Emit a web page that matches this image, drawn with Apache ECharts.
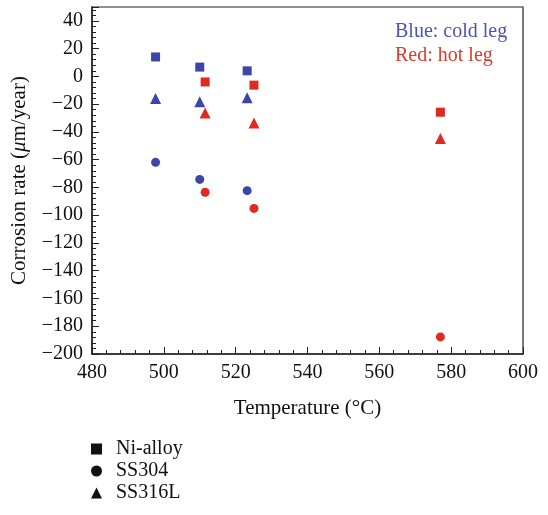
<!DOCTYPE html>
<html><head><meta charset="utf-8">
<script src="https://cdn.jsdelivr.net/npm/echarts@6/dist/echarts.min.js"></script>
<style>html,body{margin:0;padding:0;background:#fff}#c{width:548px;height:515px}</style>
</head><body><div id="c"></div>
<script>
// Data
const coldTemps = [497.7, 510, 523.2];
const hotTemps = [511.5, 525.1, 577];
const coldNi = [14, 6.7, 4];
const hotNi = [-4, -6.3, -25.8];
const coldSS304 = [-61.9, -74.2, -82.3];
const hotSS304 = [-83.5, -95.1, -187.7];
const coldSS316L = [-15.9, -18.3, -15.4];
const hotSS316L = [-26.3, -33.5, -44.8];
const materials = ['Ni-alloy', 'SS304', 'SS316L'];

const BLUE = '#3c46a8', RED = '#df2a1f';
const FONT = '"Liberation Serif", "DejaVu Serif", serif';
const pairs = (xs, ys) => xs.map((x, i) => [x, ys[i]]);
const shapes = {'Ni-alloy': 'rect', 'SS304': 'circle', 'SS316L': 'triangle'};
const sizes = {'Ni-alloy': 9, 'SS304': 9, 'SS316L': 11};

function sc(name, data, color) {
  return {type: 'scatter', name: name + (color === BLUE ? ' cold' : ' hot'), data: data,
    symbol: shapes[name], symbolSize: sizes[name], itemStyle: {color: color, opacity: 1}, z: 3};
}
const series = [
  sc('Ni-alloy', pairs(coldTemps, coldNi), BLUE),
  sc('Ni-alloy', pairs(hotTemps, hotNi), RED),
  sc('SS304', pairs(coldTemps, coldSS304), BLUE),
  sc('SS304', pairs(hotTemps, hotSS304), RED),
  sc('SS316L', pairs(coldTemps, coldSS316L), BLUE),
  sc('SS316L', pairs(hotTemps, hotSS316L), RED)
];
materials.forEach(m => series.push({type: 'scatter', name: m, data: [], symbol: shapes[m], itemStyle: {color: '#111', opacity: 1}}));

const chart = echarts.init(document.getElementById('c'), null, {renderer: 'canvas'});
chart.setOption({
  animation: false,
  backgroundColor: '#fff',
  textStyle: {fontFamily: FONT},
  grid: {left: 92, right: 25, top: 7, bottom: 161, show: true, borderColor: '#222', borderWidth: 1.2, backgroundColor: 'transparent'},
  legend: {
    data: materials, orient: 'vertical', left: 86, top: 434, itemGap: 2,
    itemWidth: 11, itemHeight: 11,
    textStyle: {fontFamily: FONT, fontSize: 20, color: '#111', padding: [0, 0, 0, 9]}
  },
  graphic: [
    {type: 'text', left: 395, top: 22, style: {text: 'Blue: cold leg', fill: '#4a54b2', font: '20px ' + FONT}},
    {type: 'text', left: 395, top: 46, style: {text: 'Red: hot leg', fill: '#e0392e', font: '20px ' + FONT}}
  ],
  xAxis: {
    type: 'value', min: 480, max: 600, interval: 20,
    name: 'Temperature (°C)', nameLocation: 'middle', nameGap: 44,
    nameTextStyle: {fontFamily: FONT, fontSize: 21, color: '#111'},
    axisLine: {onZero: false, lineStyle: {color: '#222', width: 1.5}},
    axisTick: {inside: true, length: 7, lineStyle: {color: '#222'}},
    minorTick: {show: true, splitNumber: 5, length: 4, lineStyle: {color: '#222'}},
    splitLine: {show: false},
    axisLabel: {fontFamily: FONT, fontSize: 20, color: '#111', margin: 9}
  },
  yAxis: {
    type: 'value', min: -200, max: 50, interval: 20,
    name: '{n|Corrosion rate (}{i|μ}{n|m/year)}', nameLocation: 'middle', nameGap: 62,
    nameTextStyle: {fontFamily: FONT, fontSize: 21, color: '#111',
      rich: {n: {fontFamily: FONT, fontSize: 21, color: '#111'}, i: {fontFamily: FONT, fontSize: 21, fontStyle: 'italic', color: '#111'}}},
    axisLine: {onZero: false, lineStyle: {color: '#222', width: 1.5}},
    axisTick: {inside: true, length: 7, lineStyle: {color: '#222'}},
    minorTick: {show: true, splitNumber: 5, length: 4, lineStyle: {color: '#222'}},
    splitLine: {show: false},
    axisLabel: {fontFamily: FONT, fontSize: 20, color: '#111', margin: 9, showMaxLabel: false,
      formatter: v => (v > 45 ? '' : (v < 0 ? '\u2212' + Math.abs(v) : String(v)))}
  },
  series: series
});
</script></body></html>
